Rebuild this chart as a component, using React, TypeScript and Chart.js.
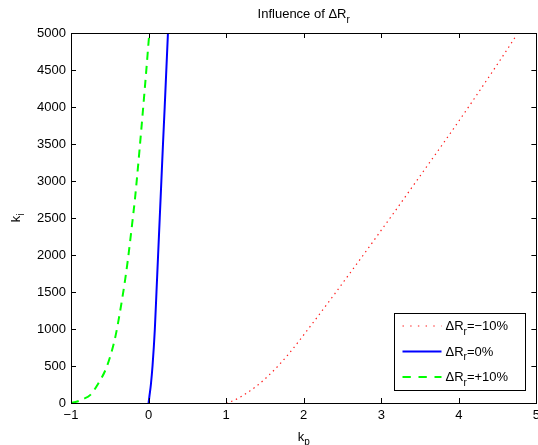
import React, { useEffect, useRef } from "react";
import { Chart, registerables } from "chart.js";

Chart.register(...registerables);

// ---- data ----
const xTickValues = [-1, 0, 1, 2, 3, 4, 5];
const xTickLabels = ["\u22121", "0", "1", "2", "3", "4", "5"];
const yTickValues = [0, 500, 1000, 1500, 2000, 2500, 3000, 3500, 4000, 4500, 5000];
const yTickLabels = ["0", "500", "1000", "1500", "2000", "2500", "3000", "3500", "4000", "4500", "5000"];

const titleText = ["Influence of \u0394R", "r"];
const xLabelText = ["k", "p"];
const yLabelText = ["k", "i"];

const seriesNames = [
  ["\u0394R", "r", "=\u221210%"],
  ["\u0394R", "r", "=0%"],
  ["\u0394R", "r", "=+10%"],
];

// ΔRr = -10%
const redX = [1.0, 1.1, 1.2, 1.3, 1.4, 1.5, 1.6, 1.7, 1.8, 1.9, 2.0, 2.2, 2.4, 2.6, 2.8, 3.0, 3.2, 3.4, 3.6, 3.8, 4.0, 4.2, 4.4, 4.6, 4.74];
const redY = [0, 35, 90, 158, 235, 325, 425, 535, 655, 785, 920, 1195, 1475, 1760, 2045, 2335, 2625, 2920, 3215, 3510, 3810, 4115, 4425, 4740, 4965];

// ΔRr = 0%
const blueX = [0.0, 0.012, 0.03, 0.051, 0.081, 0.102, 0.123, 0.144, 0.165, 0.186, 0.208, 0.229, 0.25];
const blueY = [0, 100, 250, 500, 1000, 1500, 2000, 2500, 3000, 3500, 4000, 4500, 5000];

// ΔRr = +10%
const greenX = [-1.0, -0.92, -0.85, -0.75, -0.65, -0.55, -0.48, -0.425, -0.38, -0.34, -0.3, -0.265, -0.235, -0.205, -0.175, -0.145, -0.115, -0.085, -0.055, -0.025, 0.005, 0.01];
const greenY = [0, 20, 50, 110, 260, 460, 680, 910, 1160, 1410, 1680, 1950, 2210, 2480, 2760, 3090, 3440, 3800, 4170, 4550, 4940, 5000];

const FONT = '"Liberation Sans", Arial, Helvetica, sans-serif';

const toPts = (xs: number[], ys: number[]) => xs.map((x, i) => ({ x, y: ys[i] }));

function drawRich(
  ctx: CanvasRenderingContext2D,
  parts: { t: string; sub?: boolean }[],
  x: number,
  y: number,
  align: "left" | "center"
) {
  const widths = parts.map((p) => {
    ctx.font = `${p.sub ? 10 : 13}px ${FONT}`;
    return ctx.measureText(p.t).width;
  });
  const total = widths.reduce((a, b) => a + b, 0);
  let cx = align === "center" ? x - total / 2 : x;
  ctx.textAlign = "left";
  ctx.textBaseline = "alphabetic";
  parts.forEach((p, i) => {
    ctx.font = `${p.sub ? 10 : 13}px ${FONT}`;
    ctx.fillText(p.t, cx, p.sub ? y + 4.5 : y);
    cx += widths[i];
  });
}

const matlabPlugin = {
  id: "matlabDecor",
  afterDraw(chart: any) {
    const { ctx, chartArea } = chart;
    const { left, right, top, bottom } = chartArea;
    const xs = chart.scales.x;
    const ys = chart.scales.y;
    ctx.save();
    ctx.strokeStyle = "#000";
    ctx.fillStyle = "#000";
    ctx.lineWidth = 1;
    ctx.setLineDash([]);
    // box
    ctx.strokeRect(Math.round(left) + 0.5, Math.round(top) + 0.5, Math.round(right - left), Math.round(bottom - top));
    // inward ticks
    const tl = 5;
    ctx.beginPath();
    xTickValues.forEach((v) => {
      const px = Math.round(xs.getPixelForValue(v)) + 0.5;
      ctx.moveTo(px, bottom);
      ctx.lineTo(px, bottom - tl);
      ctx.moveTo(px, top);
      ctx.lineTo(px, top + tl);
    });
    yTickValues.forEach((v) => {
      const py = Math.round(ys.getPixelForValue(v)) + 0.5;
      ctx.moveTo(left, py);
      ctx.lineTo(left + tl, py);
      ctx.moveTo(right, py);
      ctx.lineTo(right - tl, py);
    });
    ctx.stroke();

    // title
    const cx = (left + right) / 2;
    drawRich(ctx, [{ t: titleText[0] }, { t: titleText[1], sub: true }], cx, 18, "center");
    // x label
    drawRich(ctx, [{ t: xLabelText[0] }, { t: xLabelText[1], sub: true }], cx, 440.5, "center");
    // y label (rotated)
    ctx.save();
    ctx.translate(19.5, (top + bottom) / 2);
    ctx.rotate(-Math.PI / 2);
    drawRich(ctx, [{ t: yLabelText[0] }, { t: yLabelText[1], sub: true }], 0, 0, "center");
    ctx.restore();

    // legend
    const bx = Math.round(right) - 142 + 0.5;
    const by = Math.round(bottom) - 90 + 0.5;
    const bw = 131;
    const bh = 77;
    ctx.fillStyle = "#fff";
    ctx.fillRect(bx, by, bw, bh);
    ctx.strokeStyle = "#000";
    ctx.lineWidth = 1;
    ctx.strokeRect(bx, by, bw, bh);
    chart.data.datasets.forEach((ds: any, i: number) => {
      const ly = by + 12.5 + 25.5 * i;
      ctx.save();
      ctx.strokeStyle = ds.borderColor;
      ctx.lineWidth = ds.borderWidth;
      ctx.setLineDash(ds.legendDash || []);
      ctx.beginPath();
      ctx.moveTo(bx + 8, ly);
      ctx.lineTo(bx + 47, ly);
      ctx.stroke();
      ctx.restore();
      ctx.fillStyle = "#000";
      const nm = seriesNames[i];
      drawRich(ctx, [{ t: nm[0] }, { t: nm[1], sub: true }, { t: nm[2] }], bx + 51, ly + 4, "left");
    });
    ctx.restore();
  },
};

export default function App() {
  const ref = useRef<HTMLCanvasElement | null>(null);
  useEffect(() => {
    if (!ref.current) return;
    const chart = new Chart(ref.current, {
      type: "line",
      data: {
        datasets: [
          {
            label: "dRr=-10%",
            data: toPts(redX, redY),
            borderColor: "#ff1a1a",
            borderWidth: 1.2,
            borderDash: [1.4, 3.8],
            legendDash: [1.4, 6.3],
            pointRadius: 0,
            cubicInterpolationMode: "monotone",
          } as any,
          {
            label: "dRr=0%",
            data: toPts(blueX, blueY),
            borderColor: "#0000ff",
            borderWidth: 2,
            pointRadius: 0,
            cubicInterpolationMode: "monotone",
          } as any,
          {
            label: "dRr=+10%",
            data: toPts(greenX, greenY),
            borderColor: "#00ff00",
            borderWidth: 2,
            borderDash: [8, 6],
            legendDash: [8.3, 7.7],
            pointRadius: 0,
            cubicInterpolationMode: "monotone",
          } as any,
        ],
      },
      options: {
        responsive: false,
        animation: false,
        devicePixelRatio: 1,
        layout: { padding: { left: 0, right: 6, top: 33, bottom: 0 } },
        plugins: { legend: { display: false }, title: { display: false }, tooltip: { enabled: false } },
        scales: {
          x: {
            type: "linear",
            min: -1,
            max: 5,
            afterFit: (s: any) => {
              s.height = 42;
            },
            afterBuildTicks: (s: any) => {
              s.ticks = xTickValues.map((v) => ({ value: v }));
            },
            grid: { display: false, drawTicks: false },
            border: { display: false },
            ticks: {
              padding: 5,
              color: "#000",
              font: { family: FONT, size: 13 },
              maxRotation: 0,
              callback: (v: any) => {
                const i = xTickValues.indexOf(Number(v));
                return i >= 0 ? xTickLabels[i] : "";
              },
            },
          },
          y: {
            type: "linear",
            min: 0,
            max: 5000,
            afterFit: (s: any) => {
              s.width = 71;
            },
            afterBuildTicks: (s: any) => {
              s.ticks = yTickValues.map((v) => ({ value: v }));
            },
            grid: { display: false, drawTicks: false },
            border: { display: false },
            ticks: {
              padding: 5,
              color: "#000",
              font: { family: FONT, size: 13 },
              callback: (v: any) => {
                const i = yTickValues.indexOf(Number(v));
                return i >= 0 ? yTickLabels[i] : "";
              },
            },
          },
        },
      },
      plugins: [matlabPlugin],
    });
    return () => chart.destroy();
  }, []);

  return (
    <div
      style={{
        position: "absolute",
        left: 0,
        top: 0,
        width: 538,
        height: 445,
        overflow: "hidden",
        background: "#fff",
      }}
    >
      <canvas ref={ref} width={545} height={445} style={{ display: "block", width: 545, height: 445 }} />
    </div>
  );
}
